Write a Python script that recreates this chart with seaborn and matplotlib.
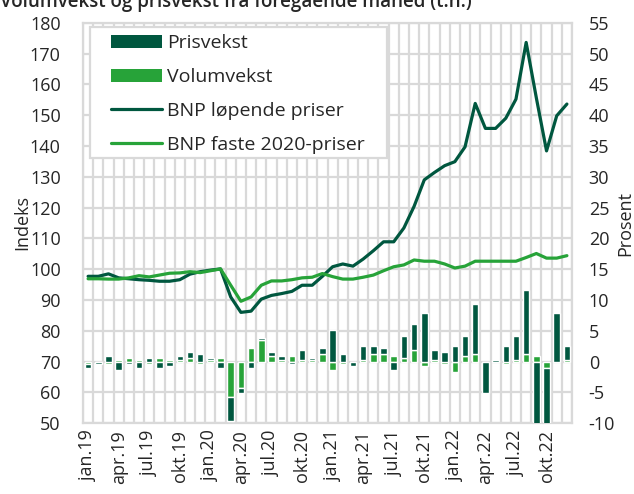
import numpy as np
import pandas as pd
import matplotlib
matplotlib.use("Agg")
import matplotlib.pyplot as plt
from matplotlib.patches import Patch, Rectangle
from matplotlib.lines import Line2D
import seaborn as sns

# ---------------- data ----------------
tick_labels = ["jan.19", "apr.19", "jul.19", "okt.19", "jan.20", "apr.20", "jul.20", "okt.20",
               "jan.21", "apr.21", "jul.21", "okt.21", "jan.22", "apr.22", "jul.22", "okt.22"]

prisvekst = [-0.65, -0.35, 0.95, -1.3, -0.35, -1.0, 0.6, -1.0, -0.65, 0.65, 0.85, 1.2,
             0.3, -1.0, -3.9, -0.9, -1.0, 0.3, 0.65, 0.65, -0.35, 1.6, 0.3, 1.0,
             5.1, 1.25, -0.65, 2.25, 1.3, 1.0, -1.3, 3.55, 4.2, 7.95, 1.6, 1.55,
             2.5, 3.2, 8.05, -5.15, 0.25, 2.5, 3.8, 10.3, -12.0, -11.0, 7.95, 2.2]

volumvekst = [-0.35, 0.0, -0.3, 0.3, 0.6, 0.3, -0.3, 0.6, 0.3, 0.3, 0.65, -0.3,
              0.3, 0.6, -5.75, -4.25, 2.2, 3.5, 0.9, 0.3, 0.9, 0.3, 0.3, 1.25,
              -1.3, -0.3, 0.0, 0.3, 1.25, 1.25, 0.9, 0.6, 1.9, -0.65, 0.3, -0.3,
              -1.6, 0.95, 1.25, 0.0, 0.0, -0.3, 0.3, 1.25, 0.9, -0.95, 0.0, 0.3]

bnp_lopende = [97.7, 97.7, 98.5, 97.2, 96.9, 96.6, 96.4, 96.1, 96.1, 96.6, 98.4, 99.2,
               99.7, 100.1, 91.0, 86.0, 86.4, 90.3, 91.5, 92.1, 92.8, 94.8, 94.8, 97.7,
               100.8, 101.7, 101.0, 103.3, 106.0, 108.9, 108.9, 113.4, 120.4, 129.0, 131.4, 133.6,
               134.9, 139.7, 153.8, 145.7, 145.7, 149.0, 155.2, 173.6, 155.6, 138.4, 149.8, 153.6]

bnp_faste = [96.9, 96.9, 96.8, 96.8, 97.2, 97.9, 97.5, 98.1, 98.7, 98.8, 99.2, 98.9,
             99.5, 100.1, 94.8, 89.6, 91.0, 94.8, 96.2, 96.2, 96.6, 97.2, 97.4, 98.6,
             97.6, 96.8, 96.8, 97.4, 98.1, 99.5, 100.8, 101.4, 103.0, 102.6, 102.6, 101.7,
             100.4, 101.0, 102.6, 102.6, 102.6, 102.6, 102.6, 103.8, 105.1, 103.6, 103.6, 104.4]

DARK = "#00573F"
LIGHT = "#27A339"
GRID = "#d9d9d9"

sns.set_theme(style="white")
plt.rcParams["font.family"] = ["Open Sans", "DejaVu Sans"]
plt.rcParams["axes.unicode_minus"] = False

n = len(prisvekst)
idx = np.arange(n)
df = pd.DataFrame({"idx": idx, "lopende": bnp_lopende, "faste": bnp_faste,
                   "pris": prisvekst, "volum": volumvekst})

fig = plt.figure(figsize=(6.34, 4.94), dpi=100)
L, R = 83 / 634, 572 / 634
B, T = (494 - 423.3) / 494, (494 - 22.7) / 494
ax = fig.add_axes([L, B, R - L, T - B])   # bars, percent axis (right)
ax2 = ax.twinx()                          # lines, index axis (left)

# ---- bars (stacked: volume nearest zero, price beyond) ----
vol = np.array(volumvekst)
pri = np.array(prisvekst)
pri_bottom = np.where(np.sign(pri) == np.sign(vol), vol, 0.0)
ax.bar(idx, vol, width=0.64, color=LIGHT, zorder=3)
ax.bar(idx, pri, bottom=pri_bottom, width=0.64, color=DARK, zorder=3)

ax.set_xlim(-0.5, n - 0.5)
ax.set_ylim(-10, 55)
ax.set_yticks(np.arange(-10, 56, 5))
ax.yaxis.tick_right()
ax.set_xticks(np.arange(0, n, 3))
ax.set_xticklabels(tick_labels, rotation=90, fontsize=13)
ax.set_xticks(np.arange(-0.5, n, 1), minor=True)
ax.grid(which="major", axis="y", color=GRID, linewidth=1.6, zorder=0)
ax.grid(which="minor", axis="x", color=GRID, linewidth=1.6, zorder=0)
ax.grid(which="major", axis="x", visible=False)
ax.set_axisbelow(True)
ax.tick_params(axis="both", which="both", length=0)
ax.tick_params(axis="y", labelsize=13, pad=12, labelright=True, labelleft=False)
ax.tick_params(axis="x", labelsize=13, pad=5)
for s in ax.spines.values():
    s.set_color(GRID)
    s.set_linewidth(1.6)

# ---- lines ----
sns.lineplot(data=df, x="idx", y="lopende", ax=ax2, color=DARK, linewidth=2.3, legend=False, zorder=4)
sns.lineplot(data=df, x="idx", y="faste", ax=ax2, color=LIGHT, linewidth=2.3, legend=False, zorder=4)
ax2.set_ylim(50, 180)
ax2.set_yticks(np.arange(50, 181, 10))
ax2.yaxis.tick_left()
ax2.tick_params(axis="y", length=0, labelsize=13, pad=16, labelleft=True, labelright=False)
ax2.set_xlabel("")
ax2.set_ylabel("")
ax.set_xlabel("")
ax.set_ylabel("")
ax2.set_xlim(-0.5, n - 0.5)
for s in ax2.spines.values():
    s.set_visible(False)

# ---- legend ----
frame = Rectangle((0.0143, 0.662), 0.6074, 0.327, transform=ax2.transAxes,
                  facecolor="white", edgecolor=GRID, linewidth=1.6, zorder=5)
ax2.add_patch(frame)
handles = [Patch(facecolor=DARK, edgecolor="none"),
           Patch(facecolor=LIGHT, edgecolor="none"),
           Line2D([0], [0], color=DARK, linewidth=2.3),
           Line2D([0], [0], color=LIGHT, linewidth=2.3)]
labels = ["Prisvekst", "Volumvekst", "BNP løpende priser", "BNP faste 2020-priser"]
leg = ax2.legend(handles, labels, loc="upper left", bbox_to_anchor=(0.0573, 0.972),
                 frameon=False, fontsize=14, handlelength=2.6, handleheight=0.65,
                 handletextpad=0.3, labelspacing=0.82, borderpad=0, borderaxespad=0)
leg.set_zorder(6)

# ---- texts ----
fig.text(22 / 634, 1 - 223 / 494, "Indeks", rotation=90, ha="center", va="center", fontsize=13)
fig.text(625 / 634, 1 - 223 / 494, "Prosent", rotation=90, ha="center", va="center", fontsize=13)
fig.text(0.0, 1 - 7 / 494, "Volumvekst og prisvekst fra foregående måned (t.h.)",
         ha="left", va="baseline", fontsize=13.5, fontweight="semibold")

fig.savefig("out.png", dpi=100)
